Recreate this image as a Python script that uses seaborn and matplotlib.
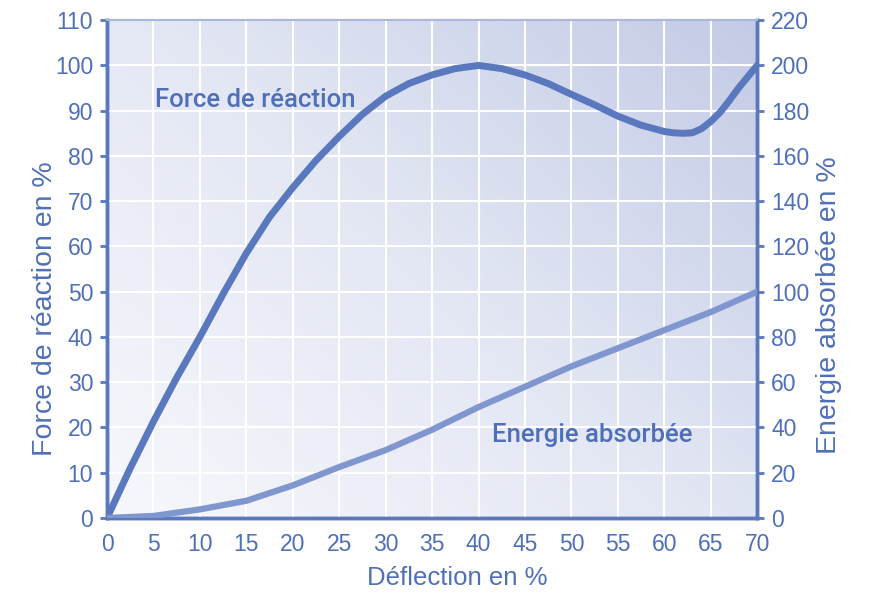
import numpy as np
import matplotlib.pyplot as plt
import seaborn as sns
from matplotlib.colors import LinearSegmentedColormap

# Deflection in %
deflection = [0, 2.5, 5, 7.5, 10, 12.5, 15, 17.5, 20, 22.5, 25, 27.5, 30, 32.5, 35,
              37.5, 40, 42.5, 45, 47.5, 50, 52.5, 55, 57.5, 60, 61, 62, 63, 64, 65,
              66, 67, 68, 69, 70]
# Reaction force in % (left axis)
force = [0, 11, 21.3, 31, 40, 49.5, 58.5, 66.5, 73, 79, 84.3, 89.2, 93.2, 96, 97.9,
         99.3, 100, 99.3, 97.9, 96, 93.6, 91.3, 88.8, 86.8, 85.4, 85.1, 85, 85.1, 86, 87.6,
         89.6, 92.2, 95, 97.5, 100]
# Absorbed energy in % (right axis)
energy_x = [0, 5, 10, 15, 20, 25, 30, 35, 40, 45, 50, 55, 60, 65, 70]
energy = [0, 0.9, 3.8, 7.6, 14.4, 22.5, 30, 39, 49, 58, 67, 75, 83, 91, 100]

blue = "#5a78bd"
light_blue = "#8096cf"
text_blue = "#4f70b8"

sns.set_style("white")
plt.rcParams['font.family'] = ['Liberation Sans', 'DejaVu Sans']

fig = plt.figure(figsize=(8.75, 5.93), dpi=100)
ax = fig.add_axes([0.1223, 0.1265, 0.743, 0.8395])

# gradient background
cmap = LinearSegmentedColormap.from_list("bg", ["#f7f8fc", "#e3e7f4", "#c3cbe6"])
gx, gy = np.meshgrid(np.linspace(0, 1, 200), np.linspace(0, 1, 200))
ax.imshow((gx * 0.55 + gy * 0.45), extent=[0, 70, 0, 110], origin="lower",
          cmap=cmap, aspect="auto", zorder=0)

sns.lineplot(x=deflection, y=force, ax=ax, color=blue, lw=5, zorder=3,
             solid_capstyle="round", solid_joinstyle="round")
ax.set_xlim(0, 70)
ax.set_ylim(0, 110)
ax.set_xticks(range(0, 71, 5))
ax.set_yticks(range(0, 111, 10))
ax.grid(True, color="white", lw=1.5, zorder=1)
ax.set_axisbelow(False)

ax2 = ax.twinx()
sns.lineplot(x=energy_x, y=energy, ax=ax2, color=light_blue, lw=4.5, zorder=3,
             solid_capstyle="round", solid_joinstyle="round")
ax2.set_ylim(0, 220)
ax2.set_yticks(range(0, 221, 20))

for a in (ax, ax2):
    for s in a.spines.values():
        s.set_color(blue)
        s.set_linewidth(2.5)
    a.spines["top"].set_color("#aab8de")
    a.spines["top"].set_linewidth(1.5)
    a.tick_params(colors=blue, labelcolor=text_blue, labelsize=16.5, length=5, width=2,
                  direction="out")
ax.tick_params(axis="x", pad=6)
ax.tick_params(axis="y", pad=5)
ax2.tick_params(axis="y", pad=5)

ax.set_xlabel("Déflection en %", color=text_blue, fontsize=18.5, va="center")
ax.set_ylabel("Force de réaction en %", color=text_blue, fontsize=20.5, va="center")
ax2.set_ylabel("Energie absorbée en %", color=text_blue, fontsize=20.5, va="center")
ax.xaxis.set_label_coords(0.538, -0.12)
ax.yaxis.set_label_coords(-0.095, 0.42)
ax2.yaxis.set_label_coords(1.11, 0.428)

ax.text(5.2, 92.3, "Force de réaction", color=text_blue, fontsize=18.5,
        family="Roboto", weight="medium", va="center", zorder=4)
ax.text(41.4, 18.3, "Energie absorbée", color=text_blue, fontsize=18.5,
        family="Roboto", weight="medium", va="center", zorder=4)

fig.savefig("out.png", dpi=100)
